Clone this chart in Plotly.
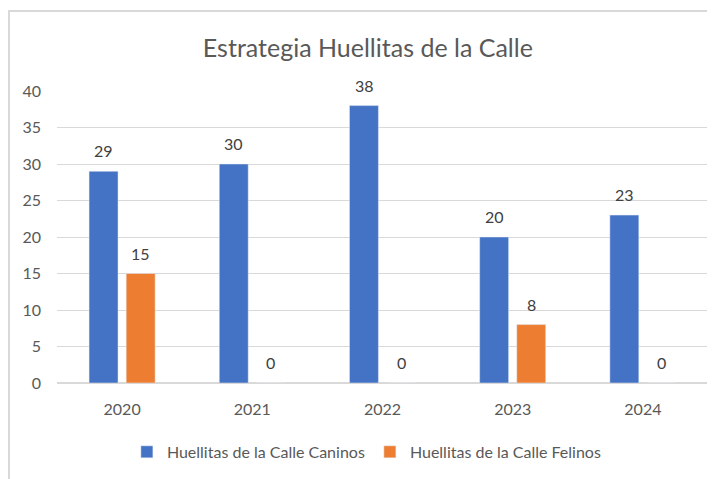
import plotly.graph_objects as go

years = ["2020", "2021", "2022", "2023", "2024"]
caninos = [29, 30, 38, 20, 23]
felinos = [15, 0, 0, 8, 0]

BLUE = "#4472C4"
ORANGE = "#ED7D31"
GRID = "#D9D9D9"
TEXT = "#595959"
FONT = "Lato"

fig = go.Figure()
fig.add_trace(go.Bar(x=years, y=caninos, name="Huellitas de la Calle Caninos",
                     marker=dict(color=BLUE)))
fig.add_trace(go.Bar(x=years, y=felinos, name="Huellitas de la Calle Felinos",
                     marker=dict(color=ORANGE)))

# value labels sit a bit higher above the bars than plotly's own outside text;
# numeric-looking year names would be read as category indexes, so use the index
for series, shift in ((caninos, -18.5), (felinos, 18.5)):
    for i, v in enumerate(series):
        fig.add_annotation(x=i, y=v, text=str(v), showarrow=False, xshift=shift, yshift=9,
                           yanchor="bottom", font=dict(color="#404040", size=16, family=FONT))

# light frame round the chart area
fig.add_shape(type="rect", xref="paper", yref="paper", x0=-0.0737, x1=1.05, y0=-0.5, y1=1.274,
              line=dict(color=GRID, width=2), fillcolor="rgba(0,0,0,0)", layer="below")

fig.update_layout(
    width=707, height=471,
    margin=dict(l=49, r=7, t=83, b=96),
    paper_bgcolor="white", plot_bgcolor="white",
    font=dict(family=FONT, color=TEXT, size=16),
    title=dict(text="Estrategia Huellitas de la Calle", x=0.509, xref="container", xanchor="center",
               y=1 - 40 / 471, yref="container", yanchor="middle",
               font=dict(size=25, color=TEXT, family=FONT)),
    barmode="group", bargap=0.43, bargroupgap=0.22,
    showlegend=True,
    legend=dict(orientation="h", x=0.476, xanchor="center", y=-0.236, yanchor="middle",
                font=dict(size=16, color=TEXT), itemwidth=30, tracegroupgap=0),
    xaxis=dict(type="category", showgrid=False, showline=True, linecolor=GRID, linewidth=1,
               ticks="", tickfont=dict(size=16, color=TEXT), ticklabelstandoff=12),
    yaxis=dict(range=[0, 40], dtick=5, showgrid=True, gridcolor=GRID, gridwidth=1,
               zeroline=True, zerolinecolor=GRID, showline=False, ticks="",
               tickfont=dict(size=16, color=TEXT), ticklabelstandoff=15),
)

fig.write_html("out.html")
